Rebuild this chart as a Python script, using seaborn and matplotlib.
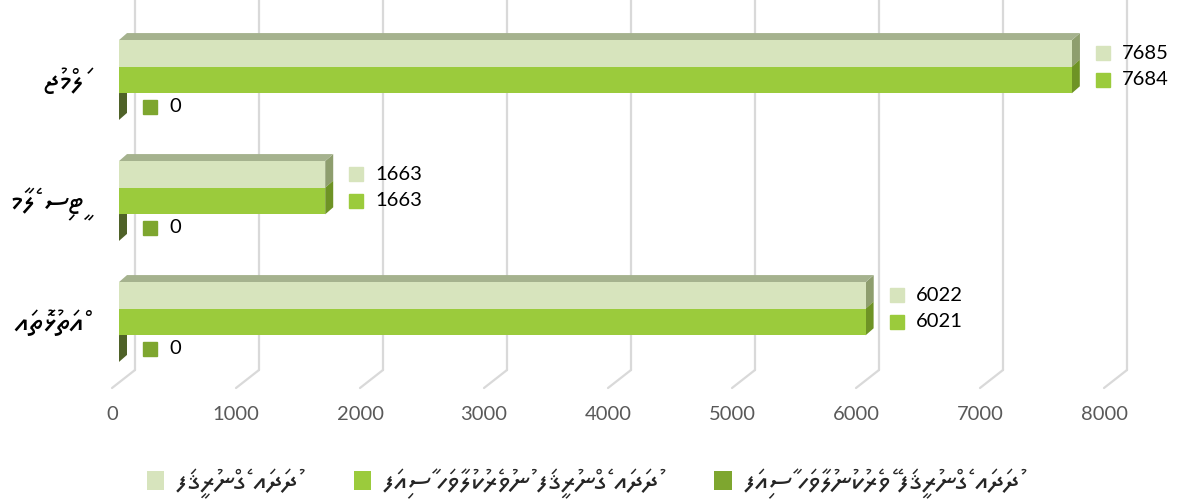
import numpy as np
import pandas as pd
import seaborn as sns
import matplotlib
matplotlib.use("Agg")
import matplotlib.pyplot as plt
from matplotlib import font_manager
from matplotlib.patches import Polygon, Patch
from matplotlib.lines import Line2D
import matplotlib.transforms as mtransforms

# ---- data -------------------------------------------------------------
regions = ["ޖުމްލަ", "މާލެ ސިޓީ", "އަތޮޅުތައް"]
series_names = [
    "ފަޤީރުންގެ އަދަދު",
    "ފައިސާ ހަވާލުކުރެވުނު ފަޤީރުންގެ އަދަދު",
    "ފައިސާ ހަވާލުނުކުރެވޭ ފަޤީރުންގެ އަދަދު",
]
poor_count = [7685, 1663, 6022]
paid_count = [7684, 1663, 6021]
unpaid_count = [0, 0, 0]
x_ticks = [0, 1000, 2000, 3000, 4000, 5000, 6000, 7000, 8000]

# ---- style ------------------------------------------------------------
front_colors = ["#D7E4BD", "#9BCB3C", "#7EA62F"]
side_colors = ["#8E9E6E", "#6E9325", "#4F6228"]
top_color = "#A5B28E"
grid_color = "#D9D9D9"

sns.set_style("white")
plt.rcParams["font.family"] = ["Lato", "DejaVu Sans"]


def has_thaana(path):
    try:
        from fontTools.ttLib import TTFont
        cmap = TTFont(path, fontNumber=0, lazy=True).getBestCmap() or {}
        return 0x0780 in cmap and 0x07A6 in cmap
    except Exception:
        return False


def find_thaana_family():
    preferred = ["DejaVu Sans", "Noto Sans Thaana", "FreeSerif"]
    entries = font_manager.fontManager.ttflist
    for name in preferred:
        for fe in entries:
            if fe.name == name and fe.style == "normal" and fe.weight == 400 \
                    and has_thaana(fe.fname):
                return fe.name
    for fe in entries:
        if has_thaana(fe.fname):
            return fe.name
    return None


thaana_family = find_thaana_family()
thaana_fonts = ([thaana_family] if thaana_family else []) + ["DejaVu Sans"]

df = pd.DataFrame({
    "region": np.repeat(regions, 3),
    "series": series_names * 3,
    "value": np.ravel(np.column_stack([poor_count, paid_count, unpaid_count])),
})

W, H = 1179, 500
fig = plt.figure(figsize=(W / 100, H / 100), dpi=100)
ax = fig.add_axes([0, 0, 1, 1])

sns.barplot(data=df, y="region", x="value", hue="series", order=regions,
            hue_order=series_names, palette=front_colors, saturation=1,
            width=0.66, orient="h", dodge=True, legend=False,
            edgecolor="none", linewidth=0, ax=ax, zorder=3)

# value axis: 0 -> px 119, 124 px per 1000 ; categories 121 px apart, first at px 80
px_per_unit = 0.124
ax.set_xlim(-119 / px_per_unit, (W - 119) / px_per_unit)
ax.set_ylim((H - 80) / 121, -80 / 121)
ax.axis("off")

fig.canvas.draw()
to_disp = ax.transData.transform
ident = mtransforms.IdentityTransform()
DX, DY = 8, 7  # depth of the 3-D bars, in pixels

# back wall grid lines and floor lines
for v in x_ticks:
    xd = to_disp((v, 0))[0]
    ax.add_line(Line2D([xd + 16, xd + 16], [H, H - 370], transform=ident,
                       color=grid_color, lw=1.6, zorder=1))
    ax.add_line(Line2D([xd + 16, xd - 7], [H - 370, H - 388], transform=ident,
                       color=grid_color, lw=1.6, zorder=1))
    ax.text(xd - 7, H - 415, f"{v}", transform=ident, ha="center", va="center",
            fontsize=14.5, color="#595959")

# depth faces and value labels for every bar
bars = [p for p in ax.patches]
for i, bar in enumerate(bars):
    s = i // len(regions)
    x0 = bar.get_x()
    xe = x0 + bar.get_width()
    yt = bar.get_y()
    yb = yt + bar.get_height()
    (ax0, ayt) = to_disp((x0, yt))
    (axe, ayb) = to_disp((xe, yb))
    side = [(axe, ayt), (axe, ayb), (axe + DX, ayb + DY), (axe + DX, ayt + DY)]
    ax.add_patch(Polygon(side, closed=True, transform=ident,
                         facecolor=side_colors[s], edgecolor="none", zorder=2))
    if s == 0:
        top = [(ax0, ayt), (axe, ayt), (axe + DX, ayt + DY), (ax0 + DX, ayt + DY)]
        ax.add_patch(Polygon(top, closed=True, transform=ident,
                             facecolor=top_color, edgecolor="none", zorder=2))
    yc = (ayt + ayb) / 2
    ax.plot([axe + 31], [yc], marker="s", ms=10, color=front_colors[s],
            transform=ident, zorder=4, clip_on=False)
    ax.text(axe + 50, yc, f"{bar.get_width():.0f}", transform=ident,
            ha="left", va="center", fontsize=14.5, color="#000000")

# category labels (right-to-left text is laid out by the text engine)
for j, name in enumerate(regions):
    yd = to_disp((0, j))[1]
    ax.text(84, yd - 3, name, transform=ident, ha="right", va="center",
            fontsize=23, family=thaana_fonts, color="#000000")

# legend
handles = [Patch(facecolor=c, edgecolor="none") for c in front_colors]
fig.legend(handles, series_names, loc="center",
           bbox_to_anchor=(0.494, 0.032), ncol=3, frameon=False,
           handlelength=0.6, handleheight=0.6, handletextpad=0.4,
           columnspacing=1.95, prop={"family": thaana_fonts, "size": 21})

fig.savefig("out.png", dpi=100)
